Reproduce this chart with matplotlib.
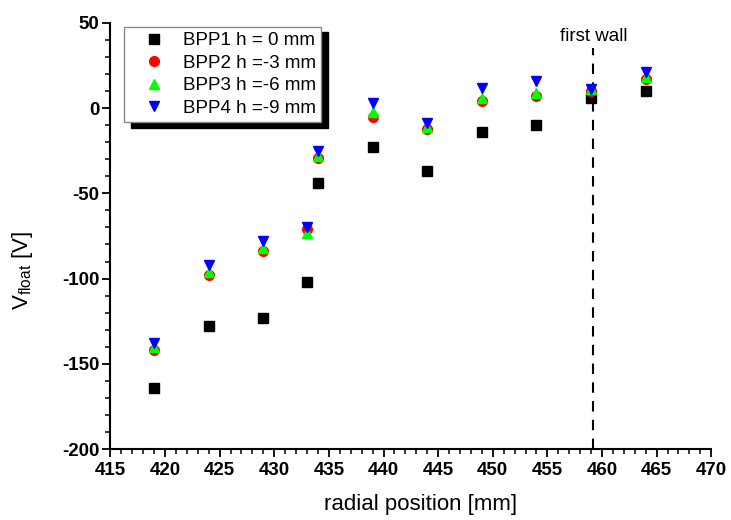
import matplotlib.pyplot as plt
from matplotlib.ticker import MultipleLocator

plt.rcParams['font.family'] = ['Liberation Sans', 'DejaVu Sans']
plt.rcParams['mathtext.default'] = 'regular'
plt.rcParams['axes.unicode_minus'] = False

# radial probe positions [mm]
r_pos = [419, 424, 429, 433, 434, 439, 444, 449, 454, 459, 464]

# floating potential [V] for each probe head height
v_bpp1 = [-164, -128, -123, -102, -44, -23, -37, -14, -10, 6, 10]
v_bpp2 = [-142, -98, -84, -71, -29, -5, -12, 4, 7, 10, 17]
v_bpp3 = [-140, -96, -82, -73, -28, -2, -11, 6, 9, 11, 18]
v_bpp4 = [-138, -92, -78, -70, -25, 3, -9, 12, 16, 11, 21]

labels = ['BPP1 h = 0 mm', 'BPP2 h =-3 mm', 'BPP3 h =-6 mm', 'BPP4 h =-9 mm']
wall_r = 459.2
wall_top = 35

fig = plt.figure(figsize=(7.31, 5.2), dpi=100)
ax = fig.add_axes([0.151, 0.1365, 0.822, 0.8195])

ax.plot(r_pos, v_bpp1, 's', color='black', ms=7, label=labels[0], zorder=3)
ax.plot(r_pos, v_bpp2, 'o', color='red', ms=7, label=labels[1], zorder=3)
ax.plot(r_pos, v_bpp3, '^', color='#00ff00', ms=7.5, label=labels[2], zorder=3)
ax.plot(r_pos, v_bpp4, 'v', color='blue', ms=7.5, label=labels[3], zorder=3)

ax.plot([wall_r, wall_r], [-200, wall_top], color='black', ls=(0, (5, 4)), lw=1.5)
ax.text(wall_r, 42, 'first wall', ha='center', va='center', fontsize=13.5)

ax.set_xlim(415, 470)
ax.set_ylim(-200, 50)
ax.xaxis.set_major_locator(MultipleLocator(5))
ax.xaxis.set_minor_locator(MultipleLocator(1))
ax.yaxis.set_major_locator(MultipleLocator(50))
ax.yaxis.set_minor_locator(MultipleLocator(10))

for side in ['top', 'right']:
    ax.spines[side].set_visible(False)
for side in ['left', 'bottom']:
    ax.spines[side].set_linewidth(1.5)

ax.tick_params(which='major', direction='out', length=6, width=1.3, labelsize=13.5)
ax.tick_params(axis='y', which='major', pad=2)
ax.tick_params(which='minor', direction='out', length=3.5, width=1.1)
for lbl in ax.get_xticklabels() + ax.get_yticklabels():
    lbl.set_fontweight('bold')

ax.set_xlabel('radial position [mm]', fontsize=16)
ax.set_ylabel('V$_{float}$ [V]', fontsize=16)
ax.xaxis.set_label_coords(0.517, -0.105)
ax.yaxis.set_label_coords(-0.125, 0.42)

leg = ax.legend(loc='upper left', bbox_to_anchor=(0.022, 0.991), borderaxespad=0,
                fontsize=13.5, frameon=True, fancybox=False, handletextpad=0.25,
                labelspacing=0.28, borderpad=0.3, handlelength=2.6,
                shadow={'ox': 5, 'oy': -4, 'color': 'black', 'alpha': 1})
leg.get_frame().set_edgecolor('#888888')
leg.get_frame().set_linewidth(1)
leg.get_frame().set_alpha(1)

fig.savefig('out.png', dpi=100)
